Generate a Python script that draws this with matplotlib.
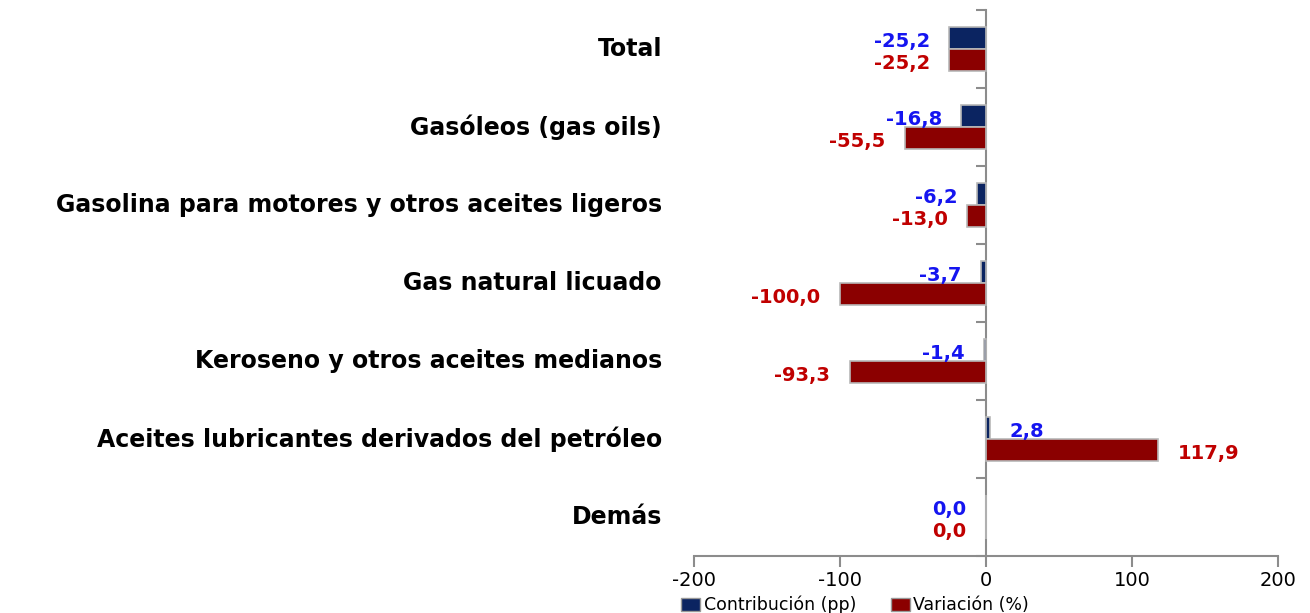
import matplotlib
matplotlib.use("Agg")
import matplotlib.pyplot as plt
from matplotlib.patches import Patch
import matplotlib.transforms as mtransforms

categories = ["Total", "Gasóleos (gas oils)", "Gasolina para motores y otros aceites ligeros",
              "Gas natural licuado", "Keroseno y otros aceites medianos",
              "Aceites lubricantes derivados del petróleo", "Demás"]
contribucion = [-25.2, -16.8, -6.2, -3.7, -1.4, 2.8, 0.0]
variacion = [-25.2, -55.5, -13.0, -100.0, -93.3, 117.9, 0.0]
xticks = [-200, -100, 0, 100, 200]

blue = "#0B2461"
red = "#8B0000"
blue_txt = "#1515F0"
red_txt = "#C00000"

fig = plt.figure(figsize=(13.1, 6.13), dpi=100)
ax = fig.add_axes([694/1310, 1-556/613, 584/1310, (556-10)/613])

y = list(range(len(categories)))
h = 0.28
yb = [v - 0.14 for v in y]
yr = [v + 0.14 for v in y]
ax.barh(yb, contribucion, height=h, color=blue, edgecolor="#B8B8B8", linewidth=1.2, zorder=3)
ax.barh(yr, variacion, height=h, color=red, edgecolor="#B8B8B8", linewidth=1.2, zorder=3)

ax.set_xlim(-200, 200)
ax.set_ylim(len(categories) - 0.5, -0.5)
ax.set_xticks(xticks)
ax.set_xticklabels([str(t) for t in xticks], fontsize=14)
ax.set_yticks([i - 0.5 for i in range(len(categories) + 1)])
ax.set_yticklabels([])

for s in ["top", "right"]:
    ax.spines[s].set_visible(False)
ax.spines["left"].set_position(("data", 0))
for s in ["left", "bottom"]:
    ax.spines[s].set_color("#8C8C8C")
    ax.spines[s].set_linewidth(1.5)
ax.tick_params(axis="x", direction="out", length=8, width=1.5, color="#8C8C8C", pad=3)
ax.tick_params(axis="y", direction="out", length=7, width=1.5, color="#8C8C8C")

trans = mtransforms.blended_transform_factory(ax.transAxes, ax.transData)
for i, c in enumerate(categories):
    ax.text(-0.055, i, c, transform=trans, ha="right", va="center",
            fontsize=17, fontweight="bold", color="black")

def fmt(v):
    return f"{v:.1f}".replace(".", ",")

def label(vals, ys, color):
    for yy, v in zip(ys, vals):
        if v > 0:
            ax.annotate(fmt(v), (v, yy + 0.04), xytext=(14, 0), textcoords="offset points",
                        ha="left", va="center", fontsize=14, fontweight="bold", color=color)
        else:
            ax.annotate(fmt(v), (v, yy + 0.04), xytext=(-14, 0), textcoords="offset points",
                        ha="right", va="center", fontsize=14, fontweight="bold", color=color)

label(contribucion, yb, blue_txt)
label(variacion, yr, red_txt)

handles = [Patch(facecolor=blue, edgecolor="#999999"), Patch(facecolor=red, edgecolor="#999999")]
fig.legend(handles, ["Contribución (pp)", "Variación (%)"], loc="center",
           bbox_to_anchor=(855/1310, 1-605/613), ncol=2, frameon=False, fontsize=12.5,
           handlelength=1.1, handleheight=0.8, handletextpad=0.2, columnspacing=2.0,
           borderpad=0, borderaxespad=0)

fig.savefig("out.png", dpi=100)
